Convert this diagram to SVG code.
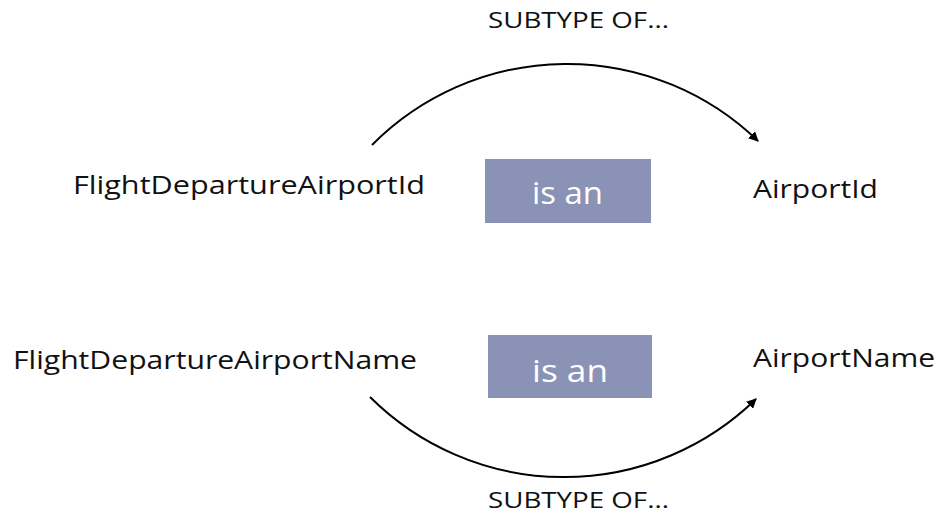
<svg xmlns="http://www.w3.org/2000/svg" width="939" height="520" viewBox="0 0 939 520">
<style>
.lbl{font-family:"Open Sans","Liberation Sans",sans-serif;font-size:26px;fill:#111;}
.sub{font-family:"Open Sans","Liberation Sans",sans-serif;font-size:21px;fill:#111;}
.box{fill:#8A93B5;}
.boxt{font-family:"Open Sans","Liberation Sans",sans-serif;font-size:31px;fill:#fff;}
.arc{fill:none;stroke:#000;stroke-width:2;}
</style>
<defs>
<marker id="ah" markerWidth="10" markerHeight="10" refX="9" refY="5" orient="auto" markerUnits="userSpaceOnUse" viewBox="0 0 10 10">
<path d="M0,0 L10,5 L0,10 z" fill="#000"/>
</marker>
</defs>
<rect width="939" height="520" fill="#fff"/>
<g id="connectors">
<path class="arc" d="M372,145 A275,275 0 0 1 758,141" marker-end="url(#ah)" transform="translate(0,0)"/>
<path class="arc" d="M370,397 A275,275 0 0 0 756,399" marker-end="url(#ah)"/>
</g>
<g id="label-top"><text class="sub" x="488" y="28" textLength="181" lengthAdjust="spacingAndGlyphs">SUBTYPE OF...</text></g>
<g id="label-bottom"><text class="sub" x="488" y="508" textLength="181" lengthAdjust="spacingAndGlyphs">SUBTYPE OF...</text></g>
<g id="node-fdaid"><text class="lbl" x="73" y="194" textLength="352" lengthAdjust="spacingAndGlyphs">FlightDepartureAirportId</text></g>
<g id="node-fdaname"><text class="lbl" x="13" y="369" textLength="404" lengthAdjust="spacingAndGlyphs">FlightDepartureAirportName</text></g>
<g id="node-aid"><text class="lbl" x="753" y="198" textLength="125" lengthAdjust="spacingAndGlyphs">AirportId</text></g>
<g id="node-aname"><text class="lbl" x="753" y="367" textLength="182" lengthAdjust="spacingAndGlyphs">AirportName</text></g>
<g id="box-top"><rect class="box" x="485" y="159" width="166" height="64"/><text class="boxt" x="532" y="204" textLength="71" lengthAdjust="spacingAndGlyphs">is an</text></g>
<g id="box-bottom"><rect class="box" x="488" y="335" width="164" height="63"/><text class="boxt" x="532" y="382" textLength="76" lengthAdjust="spacingAndGlyphs">is an</text></g>
</svg>
